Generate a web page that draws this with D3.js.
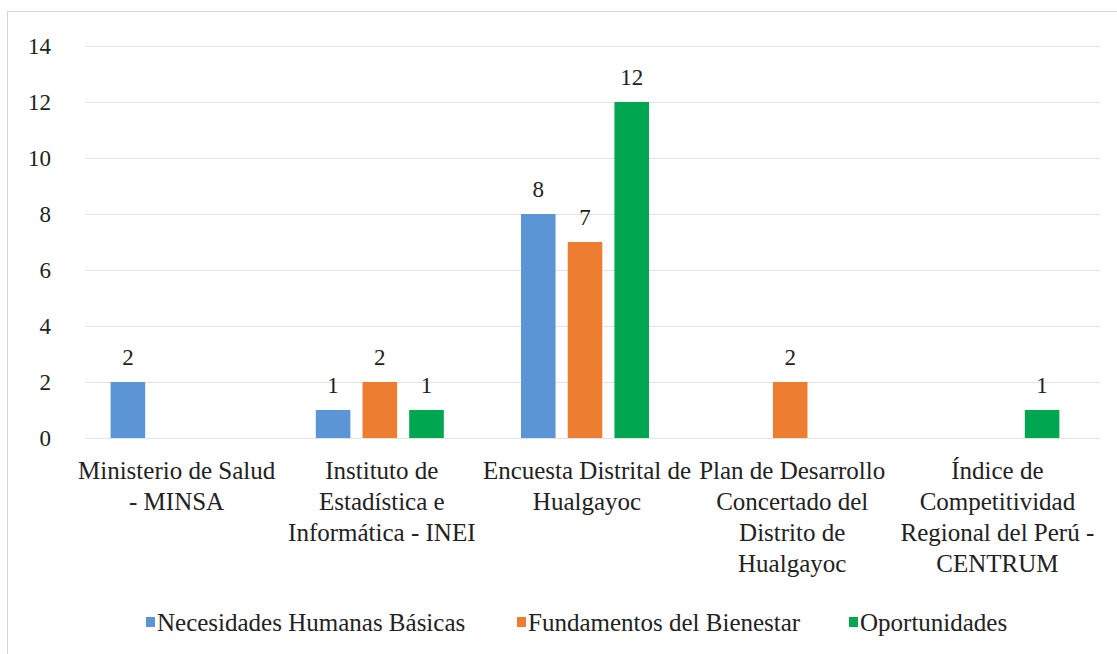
<!DOCTYPE html>
<html>
<head>
<meta charset="utf-8">
<script src="https://cdn.jsdelivr.net/npm/d3@7"></script>
</head>
<body style="margin:0">
<svg id="chart" width="1117" height="654"></svg>
<script>
// categories (each split into the lines shown under the axis)
const categories = [
  ['Ministerio de Salud', '- MINSA'],
  ['Instituto de', 'Estadística e', 'Informática - INEI'],
  ['Encuesta Distrital de', 'Hualgayoc'],
  ['Plan de Desarrollo', 'Concertado del', 'Distrito de', 'Hualgayoc'],
  ['Índice de', 'Competitividad', 'Regional del Perú -', 'CENTRUM']
]
const series = ['Necesidades Humanas Básicas', 'Fundamentos del Bienestar', 'Oportunidades']
const necesidades = [2, 1, 8, null, null]
const fundamentos = [null, 2, 7, 2, null]
const oportunidades = [null, 1, 12, null, 1]
const yTicks = [0, 2, 4, 6, 8, 10, 12, 14]
const colors = ['#5b95d6', '#ed7d31', '#00a650']

const svg = d3.select('#chart')

// serif text helper
function serif (sel, size) {
  sel.attr('font-family', 'Liberation Serif')
    .style('font-family', '"Liberation Serif"')
    .attr('font-size', size)
    .attr('fill', '#222')
}

// outer frame
svg.append('rect')
  .attr('x', 7.5).attr('y', 11.5)
  .attr('width', 1120).attr('height', 660)
  .attr('fill', 'none')
  .attr('stroke', '#d4d4d4')

const x = d3.scaleBand()
  .domain(d3.range(categories.length))
  .range([72, 1098])

const y = d3.scaleLinear()
  .domain([0, 14])
  .range([438, 46])

const xs = d3.scaleBand()
  .domain(series)
  .range([x.bandwidth() / 2 - 64, x.bandwidth() / 2 + 64])
  .paddingInner(0.26)

// gridlines
svg.append('g')
  .selectAll('line')
  .data(yTicks)
  .join('line')
  .attr('x1', 85).attr('x2', 1100)
  .attr('y1', d => y(d) + 0.5).attr('y2', d => y(d) + 0.5)
  .attr('stroke', '#e3e3e3')

// y tick labels
svg.append('g')
  .selectAll('text')
  .data(yTicks)
  .join('text')
  .attr('x', 51)
  .attr('y', d => y(d))
  .attr('dy', '0.35em')
  .attr('text-anchor', 'end')
  .call(serif, 23)
  .text(d => d)

const rows = []
const cols = [necesidades, fundamentos, oportunidades]
categories.forEach((c, i) => {
  series.forEach((s, j) => {
    if (cols[j][i] != null) rows.push({ i: i, s: s, j: j, v: cols[j][i] })
  })
})

const bars = svg.append('g')
bars.selectAll('rect')
  .data(rows)
  .join('rect')
  .attr('x', d => x(d.i) + xs(d.s))
  .attr('y', d => y(d.v))
  .attr('width', xs.bandwidth())
  .attr('height', d => y(0) - y(d.v))
  .attr('fill', d => colors[d.j])

bars.selectAll('text')
  .data(rows)
  .join('text')
  .attr('x', d => x(d.i) + xs(d.s) + xs.bandwidth() / 2)
  .attr('y', d => y(d.v) - 17)
  .attr('text-anchor', 'middle')
  .call(serif, 23)
  .text(d => d.v)

// category labels
const cat = svg.append('g')
  .selectAll('text')
  .data(categories)
  .join('text')
  .attr('text-anchor', 'middle')
  .call(serif, 25)
  .attr('transform', (d, i) => `translate(${x(i) + x.bandwidth() / 2 + 2},479)`)
cat.selectAll('tspan')
  .data(d => d)
  .join('tspan')
  .attr('x', 0)
  .attr('y', (d, k) => k * 31)
  .text(d => d)

// legend
const legendX = [146, 517, 849]
const lg = svg.append('g')
  .selectAll('g')
  .data(series)
  .join('g')
  .attr('transform', (d, j) => `translate(${legendX[j]},622)`)
lg.append('rect')
  .attr('x', 0).attr('y', -5)
  .attr('width', 9).attr('height', 10)
  .attr('fill', (d, j) => colors[j])
lg.append('text')
  .attr('x', 11)
  .attr('dy', '0.35em')
  .call(serif, 25)
  .text(d => d)
</script>
</body>
</html>
